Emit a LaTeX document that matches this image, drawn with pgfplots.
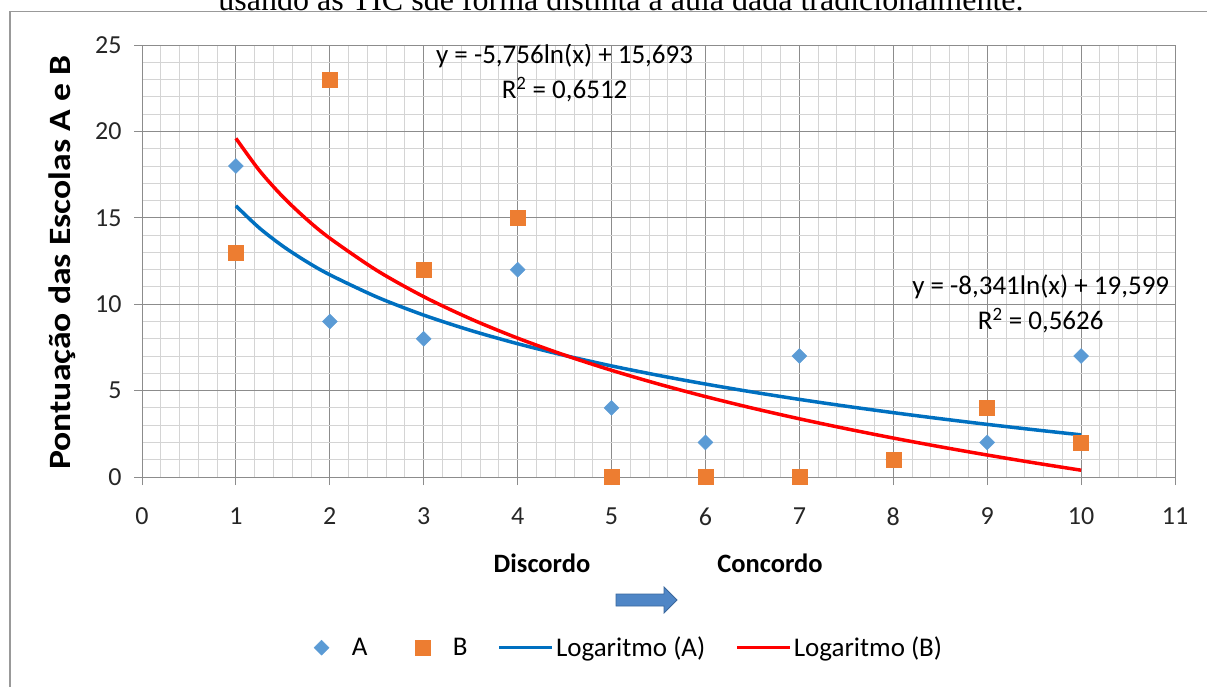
\documentclass[border=0pt]{standalone}
\usepackage{graphicx}
\usepackage{pgfplots}
\pgfplotsset{compat=1.18}
\usepackage{fontspec}
\setmainfont{Carlito}
\newfontfamily\capfont{Liberation Serif}
\definecolor{cA}{HTML}{5B9BD5}
\definecolor{cB}{HTML}{ED7D31}
\definecolor{lA}{HTML}{0070C0}
\definecolor{lB}{HTML}{FF0000}
\definecolor{majg}{HTML}{8C8C8C}
\definecolor{ming}{HTML}{D4D4D4}
\definecolor{arrf}{HTML}{4F86C6}
\definecolor{arrd}{HTML}{3A679C}
\pgfplotsset{
  markleg/.style={legend image code/.code={\draw[##1] plot coordinates {(25pt,0pt)}; \path (0pt,0pt) (53pt,0pt);}},
  lineleg/.style={legend image code/.code={\draw[##1] (0pt,0pt) -- (53pt,0pt);}},
}
\begin{document}
\begin{tikzpicture}[x=1pt,y=1pt]
\useasboundingbox (0,0) rectangle (1207,686);
% caption, partly cropped as in the source
\node[anchor=base, font=\capfont\fontsize{32}{34}\selectfont, inner sep=0pt] at (621,675.5) {usando as TIC sde forma distinta à aula dada tradicionalmente.};
\draw[gray!80, line width=1.2pt] (10,-5) -- (10,674.3) -- (1210,674.3);
\begin{axis}[
  at={(142pt,209pt)}, anchor=south west,
  width=1033pt, height=432pt, scale only axis,
  xmin=0, xmax=11, ymin=0, ymax=25,
  xtick={0,1,...,11}, ytick={0,5,...,25},
  minor x tick num=4, minor y tick num=4,
  grid=both,
  major grid style={majg, line width=0.9pt},
  minor grid style={ming, line width=0.9pt},
  axis line style={majg, line width=0.9pt},
  tick style={majg, line width=0.9pt},
  minor tick length=0pt,
  major tick length=8pt,
  tick align=outside,
  xtick pos=bottom, ytick pos=left,
  /pgf/number format/assume math mode=true,
  ticklabel style={font=\fontsize{26}{28}\selectfont, text=black!85},
  xticklabel style={yshift=-19pt},
  yticklabel style={xshift=-9pt},
  legend columns=4,
  legend style={draw=none, fill=none, at={(0.463,-0.395)}, anchor=center,
    font=\fontsize{27}{29}\selectfont,
    /tikz/every even column/.append style={column sep=28pt},
    /tikz/every odd column/.append style={column sep=0pt}},
  legend cell align=left,
]
\addplot[only marks, mark=square*, mark options={rotate=45, fill=cA, draw=cA}, mark size=5.3pt, markleg]
 coordinates {(1,18)(2,9)(3,8)(4,12)(5,4)(6,2)(7,7)(8,1)(9,2)(10,7)};
\addlegendentry{A}
\addplot[only marks, mark=square*, mark options={fill=cB, draw=cB}, mark size=7.5pt, markleg]
 coordinates {(1,13)(2,23)(3,12)(4,15)(5,0)(6,0)(7,0)(8,1)(9,4)(10,2)};
\addlegendentry{B}
\addplot[lA, line width=3.5pt, smooth, lineleg]
 coordinates {(1,15.693)(1.25,14.409)(1.5,13.359)(1.75,12.472)(2,11.703)(2.5,10.419)(3,9.369)(3.5,8.482)(4,7.714)(4.5,7.036)(5,6.429)(5.5,5.881)(6,5.380)(6.5,4.919)(7,4.492)(7.5,4.095)(8,3.724)(8.5,3.375)(9,3.046)(9.5,2.735)(10,2.439)};
\addlegendentry{Logaritmo (A)}
\addplot[lB, line width=3.5pt, smooth, lineleg]
 coordinates {(1,19.599)(1.25,17.738)(1.5,16.217)(1.75,14.931)(2,13.818)(2.5,11.956)(3,10.436)(3.5,9.150)(4,8.036)(4.5,7.054)(5,6.175)(5.5,5.380)(6,4.654)(6.5,3.986)(7,3.368)(7.5,2.793)(8,2.254)(8.5,1.749)(9,1.272)(9.5,0.821)(10,0.393)};
\addlegendentry{Logaritmo (B)}
\node[font=\fontsize{27}{35}\selectfont, align=center, inner sep=0pt] at (axis cs:4.50,23.38) {y = -5,756ln(x) + 15,693\\R\textsuperscript{2} = 0,6512};
\node[font=\fontsize{27}{35}\selectfont, align=center, inner sep=0pt] at (axis cs:9.57,10.0) {y = -8,341ln(x) + 19,599\\R\textsuperscript{2} = 0,5626};
\end{axis}
\node[rotate=90, font=\bfseries\fontsize{31}{33}\selectfont] at (62,423) {\scalebox{1.15}[1]{Pontuação das Escolas A e B}};
\node[font=\bfseries\fontsize{26.5}{28}\selectfont] at (542,123) {Discordo};
\node[font=\bfseries\fontsize{26.5}{28}\selectfont] at (770,123) {Concordo};
\draw[fill=arrf, draw=arrd, line width=0.8pt] (616,80) -- (664,80) -- (664,73) -- (677,86) -- (664,99) -- (664,92) -- (616,92) -- cycle;
\end{tikzpicture}
\end{document}
